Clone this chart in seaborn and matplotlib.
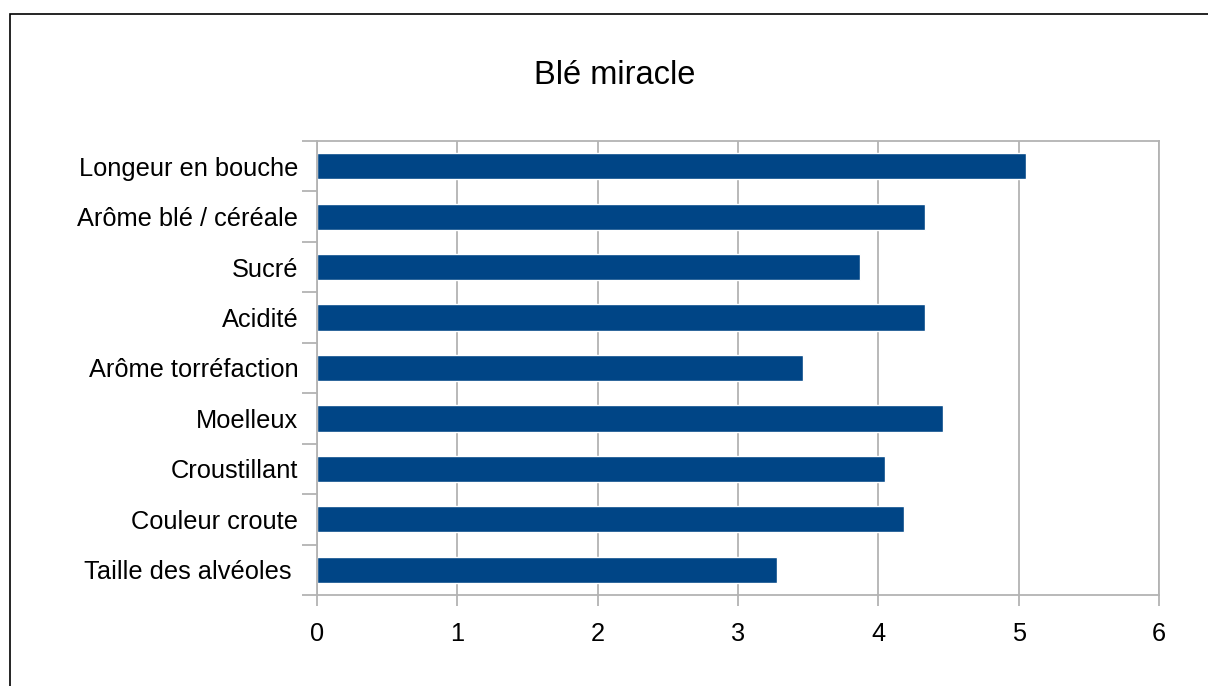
import matplotlib
matplotlib.use("Agg")
import matplotlib.pyplot as plt
from matplotlib.patches import Rectangle
from matplotlib.ticker import FixedLocator
import seaborn as sns
import pandas as pd

# Sensory scores for the bread
criteres = [
    "Longeur en bouche",
    "Arôme blé / céréale",
    "Sucré",
    "Acidité",
    "Arôme torréfaction",
    "Moelleux",
    "Croustillant",
    "Couleur croute",
    "Taille des alvéoles ",
]
notes = [5.05, 4.33, 3.87, 4.33, 3.46, 4.46, 4.05, 4.18, 3.28]
graduations = [0, 1, 2, 3, 4, 5, 6]
titre = "Blé miracle"

sns.set_theme(style="white")
plt.rcParams["font.family"] = ["Liberation Sans", "DejaVu Sans"]

df = pd.DataFrame({"critere": criteres, "note": notes})

fig = plt.figure(figsize=(12.08, 6.86), dpi=100)
ax = fig.add_axes([317 / 1208, 1 - 595 / 686, (1159 - 317) / 1208, (595 - 141) / 686])

grid_col = "#b3b3b3"
ax.set_axisbelow(True)
ax.xaxis.grid(True, color=grid_col, linewidth=1.3)

sns.barplot(data=df, x="note", y="critere", orient="h", color="#004586",
            saturation=1, width=0.52, ax=ax)

ax.set_xlim(graduations[0], graduations[-1])
ax.set_ylim(len(criteres) - 0.5, -0.5)
ax.set_xticks(graduations)
ax.set_xticklabels([str(g) for g in graduations])
ax.set_xlabel("")
ax.set_ylabel("")

for side in ["top", "right", "left", "bottom"]:
    ax.spines[side].set_visible(True)
    ax.spines[side].set_color(grid_col)
    ax.spines[side].set_linewidth(1.3)

ax.tick_params(axis="x", which="major", length=8, width=1.3, color=grid_col,
               labelsize=18.3, pad=11.5, labelcolor="black", bottom=True)
ax.tick_params(axis="y", which="major", length=0, labelsize=18.3, pad=13.5,
               labelcolor="black")
# category separators on the left axis
ax.yaxis.set_minor_locator(FixedLocator([i + 0.5 for i in range(-1, len(criteres))]))
ax.tick_params(axis="y", which="minor", length=11, width=1.3, color=grid_col, left=True)

fig.text(615 / 1208, 1 - 75 / 686, titre, ha="center", va="center",
         fontsize=23.5, color="black")

# outer chart frame
fig.patches.append(Rectangle((10 / 1208, -0.1), 1.2, 1 - 14 / 686 + 0.1,
                             transform=fig.transFigure, fill=False,
                             edgecolor="black", linewidth=1.2))

fig.savefig("out.png", dpi=100, facecolor="white")
